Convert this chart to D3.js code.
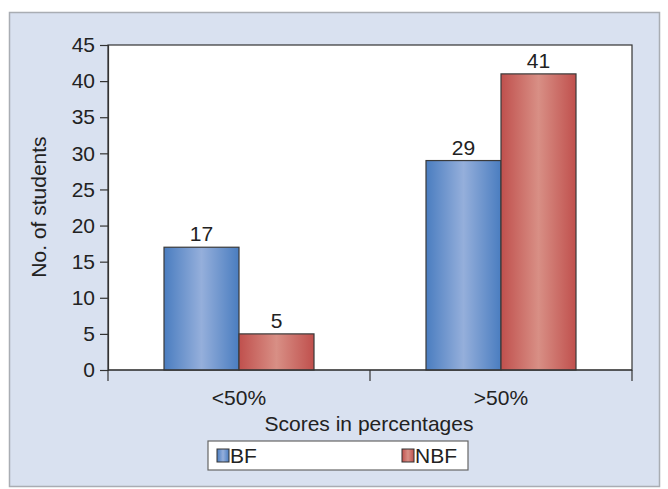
<!DOCTYPE html>
<html>
<head>
<meta charset="utf-8">
<script src="https://cdn.jsdelivr.net/npm/d3@7"></script>
<style>
  body { margin: 0; background: #fff; }
  svg text { font-family: "Liberation Sans", Arial, sans-serif; fill: #222; }
</style>
</head>
<body>
<svg id="chart" width="668" height="489"></svg>
<script>
const categories = ["<50%", ">50%"]
const seriesNames = ["BF", "NBF"]
const bfValues = [17, 29]
const nbfValues = [5, 41]
const yTicks = [0, 5, 10, 15, 20, 25, 30, 35, 40, 45]

const svg = d3.select("#chart")
const margin = { left: 108, right: 36, top: 45, bottom: 119 }
const W = 668, H = 489
const iw = W - margin.left - margin.right
const ih = H - margin.top - margin.bottom
const fs = 21

// gradients for bars
const defs = svg.append("defs")
const grads = [
  { id: "gBF", edge: "#4a7dc0", mid: "#95afdb" },
  { id: "gNBF", edge: "#c0504d", mid: "#d88f85" },
]
grads.forEach((g) => {
  const lg = defs.append("linearGradient").attr("id", g.id)
    .attr("x1", "0%").attr("x2", "100%").attr("y1", "0%").attr("y2", "0%")
  lg.append("stop").attr("offset", "0%").attr("stop-color", g.edge)
  lg.append("stop").attr("offset", "50%").attr("stop-color", g.mid)
  lg.append("stop").attr("offset", "100%").attr("stop-color", g.edge)
})

// outer panel
svg.append("rect").attr("x", 9.5).attr("y", 12.5).attr("width", 650).attr("height", 474)
  .attr("fill", "#d9e1f0").attr("stroke", "#a9adb3").attr("stroke-width", 1.5)

const g = svg.append("g").attr("transform", `translate(${margin.left},${margin.top})`)

const x0 = d3.scaleBand().domain(categories).range([0, iw]).paddingInner(0).paddingOuter(0)
const x1 = d3.scaleBand().domain(seriesNames).range([0, 150]).padding(0)
const y = d3.scaleLinear().domain([0, 45]).range([ih, 0])

g.append("rect").attr("width", iw).attr("height", ih).attr("fill", "#fff")
  .attr("stroke", "#333").attr("stroke-width", 1.2)

const rows = categories.map((c, i) => ({ cat: c, vals: [bfValues[i], nbfValues[i]] }))

const groups = g.selectAll(".grp").data(rows).join("g")
  .attr("class", "grp")
  .attr("transform", (d) => `translate(${x0(d.cat) + x0.bandwidth() / 2 - 75},0)`)

groups.selectAll("rect").data((d) => d.vals.map((v, i) => ({ v, s: seriesNames[i] })))
  .join("rect")
  .attr("x", (d) => x1(d.s))
  .attr("y", (d) => y(d.v))
  .attr("width", x1.bandwidth())
  .attr("height", (d) => ih - y(d.v))
  .attr("fill", (d) => (d.s === "BF" ? "url(#gBF)" : "url(#gNBF)"))
  .attr("stroke", "#3a3a3a").attr("stroke-width", 1.2)

groups.selectAll("text").data((d) => d.vals.map((v, i) => ({ v, s: seriesNames[i] })))
  .join("text")
  .attr("x", (d) => x1(d.s) + x1.bandwidth() / 2)
  .attr("y", (d) => y(d.v) - 6)
  .attr("text-anchor", "middle")
  .attr("font-size", fs)
  .text((d) => d.v)

// y axis
const yAxis = g.append("g").call(d3.axisLeft(y).tickValues(yTicks).tickSize(8).tickPadding(5))
yAxis.select(".domain").attr("stroke", "#333").attr("stroke-width", 1.2)
yAxis.selectAll(".tick line").attr("stroke", "#333").attr("stroke-width", 1.2)
yAxis.selectAll(".tick text").attr("font-size", fs).attr("fill", "#222")
  .attr("font-family", "Liberation Sans, Arial, sans-serif")

// x axis: ticks at band boundaries
const xAxisG = g.append("g").attr("transform", `translate(0,${ih})`)
xAxisG.append("line").attr("x1", 0).attr("x2", iw).attr("stroke", "#333").attr("stroke-width", 1.2)
const boundaries = [0, x0(categories[1]), iw]
xAxisG.selectAll(".bt").data(boundaries).join("line")
  .attr("x1", (d) => d).attr("x2", (d) => d).attr("y1", 0).attr("y2", 11)
  .attr("stroke", "#333").attr("stroke-width", 1.2)
xAxisG.selectAll(".cl").data(categories).join("text")
  .attr("x", (d) => x0(d) + x0.bandwidth() / 2)
  .attr("y", 35)
  .attr("text-anchor", "middle")
  .attr("font-size", fs)
  .text((d) => d)

// axis titles
svg.append("text").attr("x", 369).attr("y", 431).attr("text-anchor", "middle")
  .attr("font-size", fs).text("Scores in percentages")
svg.append("text").attr("transform", "translate(46,207) rotate(-90)")
  .attr("text-anchor", "middle").attr("font-size", fs).text("No. of students")

// legend
const lg = svg.append("g").attr("transform", "translate(208,441)")
lg.append("rect").attr("width", 260).attr("height", 29).attr("fill", "#fff")
  .attr("stroke", "#666").attr("stroke-width", 1.2)
const legendItems = [
  { name: seriesNames[0], x: 9, fill: "url(#gBF)" },
  { name: seriesNames[1], x: 194, fill: "url(#gNBF)" },
]
const li = lg.selectAll(".li").data(legendItems).join("g")
  .attr("transform", (d) => `translate(${d.x},0)`)
li.append("rect").attr("x", 0).attr("y", 8).attr("width", 12).attr("height", 13)
  .attr("fill", (d) => d.fill).attr("stroke", "#333").attr("stroke-width", 1)
li.append("text").attr("x", 13).attr("y", 22).attr("font-size", fs).text((d) => d.name)
</script>
</body>
</html>
